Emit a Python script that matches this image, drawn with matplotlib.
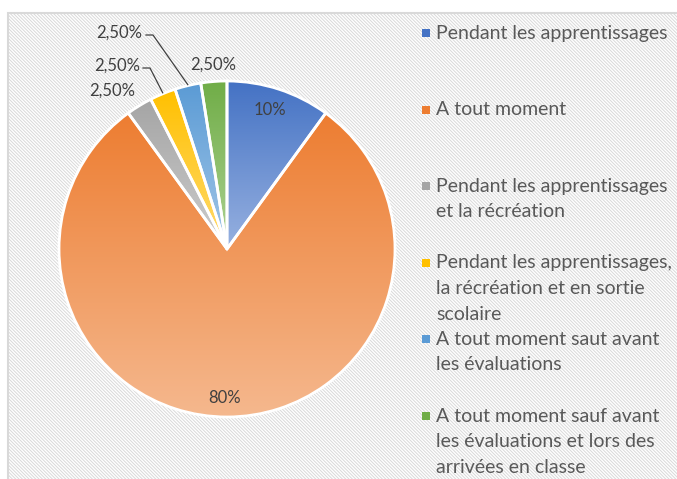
import numpy as np
import matplotlib

matplotlib.use("Agg")
import matplotlib.pyplot as plt
from matplotlib.colors import LinearSegmentedColormap
from matplotlib.patches import Rectangle

categories = [
    "Pendant les apprentissages",
    "A tout moment",
    "Pendant les apprentissages\net la récréation",
    "Pendant les apprentissages,\nla récréation et en sortie\nscolaire",
    "A tout moment saut avant\nles évaluations",
    "A tout moment sauf avant\nles évaluations et lors des\narrivées en classe",
]
values = [10, 80, 2.5, 2.5, 2.5, 2.5]
value_labels = ["10%", "80%", "2,50%", "2,50%", "2,50%", "2,50%"]

# (dark top, light bottom) gradient per slice
grad = [
    ("#4472C4", "#97B1E0"),
    ("#ED7D31", "#F5B88E"),
    ("#A5A5A5", "#CDCDCD"),
    ("#FFC000", "#FFDB70"),
    ("#5B9BD5", "#A3C7E8"),
    ("#70AD47", "#ADD293"),
]
legend_cols = ["#4472C4", "#ED7D31", "#A5A5A5", "#FFC000", "#5B9BD5", "#70AD47"]

W, H = 677, 479
plt.rcParams["font.family"] = ["Lato", "DejaVu Sans"]
plt.rcParams["hatch.color"] = "#e6e6e6"
plt.rcParams["hatch.linewidth"] = 0.7

fig = plt.figure(figsize=(W / 100, H / 100), dpi=100)
ax = fig.add_axes([0, 0, 1, 1])
ax.set_xlim(0, W)
ax.set_ylim(0, H)
ax.set_aspect("equal")
ax.axis("off")

# background with diagonal stripes and frame
ax.add_patch(Rectangle((0, 0), W, H, facecolor="white", edgecolor="none", zorder=0))
ax.add_patch(Rectangle((7.5, -5), W + 10, H - 12 + 5 - 0.5, facecolor="white",
                       edgecolor="#d9d9d9", hatch="\\" * 10, linewidth=1.5, zorder=0.5))

cx, cy, r = 227, H - 249, 168
wedges, _ = ax.pie(values, startangle=90, counterclock=False, center=(cx, cy),
                   radius=r, frame=True,
                   wedgeprops=dict(edgecolor="white", linewidth=2.0))
ax.set_xlim(0, W)
ax.set_ylim(0, H)
ax.axis("off")

g = np.linspace(0, 1, 256).reshape(-1, 1)
for w, (c1, c2) in zip(wedges, grad):
    bb = w.get_path().get_extents(w.get_transform() - ax.transData)
    cmap = LinearSegmentedColormap.from_list("g", [c1, c2])
    im = ax.imshow(g, cmap=cmap, extent=(bb.x0, bb.x1, bb.y0, bb.y1),
                   origin="upper", aspect="auto", zorder=2, interpolation="bilinear")
    im.set_clip_path(w)
    w.set_facecolor("none")
    w.set_zorder(3)
ax.set_xlim(0, W)
ax.set_ylim(0, H)

lab_fs = 12
ax.text(270, H - 110, value_labels[0], ha="center", va="center", fontsize=lab_fs,
        color="#404040", zorder=5)
ax.text(225, H - 398, value_labels[1], ha="center", va="center", fontsize=lab_fs,
        color="#404040", zorder=5)


def edge_point(i, frac=1.0):
    w = wedges[i]
    a = np.deg2rad((w.theta1 + w.theta2) / 2)
    return cx + r * frac * np.cos(a), cy + r * frac * np.sin(a)


# label anchors (right edge for the three left labels, centre for the green one)
ax.text(135, H - 91, value_labels[2], ha="right", va="center", fontsize=lab_fs,
        color="#404040", zorder=5)
ax.text(140, H - 66, value_labels[3], ha="right", va="center", fontsize=lab_fs,
        color="#404040", zorder=5)
ax.text(142, H - 33, value_labels[4], ha="right", va="center", fontsize=lab_fs,
        color="#404040", zorder=5)
ax.text(213, H - 65, value_labels[5], ha="center", va="center", fontsize=lab_fs,
        color="#404040", zorder=5)
for i, (x0, yl) in [(3, (143, 68)), (4, (146, 35))]:
    px, py = edge_point(i)
    ax.plot([x0, x0 + 7, px], [H - yl, H - yl, py + 1],
            color="#404040", lw=0.9, zorder=5)

# legend
y0, step, lh = 33, 76.6, 25.6
for i, (lab, col) in enumerate(zip(categories, legend_cols)):
    yy = y0 + i * step
    ax.add_patch(Rectangle((422, H - yy - 4), 8, 8, facecolor=col, edgecolor="none", zorder=5))
    for j, line in enumerate(lab.split("\n")):
        ax.text(436, H - (yy + j * lh), line, ha="left", va="center", fontsize=14,
                color="#595959", zorder=5)

fig.savefig("out.png", dpi=100)
